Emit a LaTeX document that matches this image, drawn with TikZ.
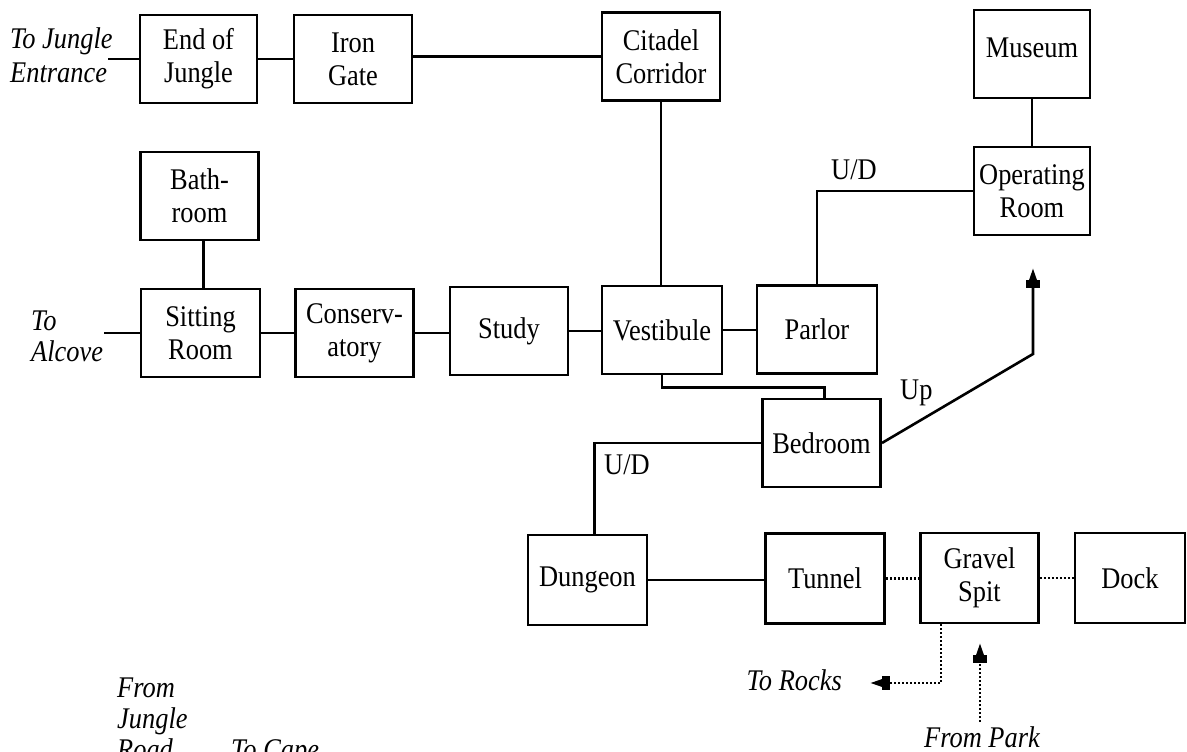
\documentclass[tikz,border=0pt]{standalone}
\usepackage{fontspec}
\setmainfont[FakeStretch=0.88]{Liberation Serif}
\usetikzlibrary{arrows.meta}
\begin{document}
\begin{tikzpicture}[x=1pt,y=-1pt,
  room/.style={draw, line width=2.9pt, minimum width=118pt, minimum height=88pt,
    align=center, inner sep=0pt, font=\fontsize{30}{33}\selectfont},
  link/.style={line width=2.6pt},
  dots/.style={line width=2.6pt, dash pattern=on 2pt off 2pt},
  lab/.style={font=\fontsize{30}{33}\selectfont\itshape, inner sep=0pt},
  ulab/.style={font=\fontsize{30}{33}\selectfont, inner sep=0pt},
  tip/.style={-{Rectangle[length=8pt,width=14pt] Triangle[length=12pt,width=7pt]}}]
\useasboundingbox (0,0) rectangle (1187,752);
\clip (0,0) rectangle (1187,752);
\fill[white] (0,0) rectangle (1187,752);

% rooms
\node[room, minimum width=117pt] (endj) at (198.5,59) {End of\\Jungle};
\node[room] (iron) at (353,59) {Iron\\Gate};
\node[room] (citadel) at (661,56.5) {Citadel\\Corridor};
\node[room, minimum width=116pt] (museum) at (1032,54) {\raisebox{12pt}{Museum}};
\node[room, minimum width=116pt] (oper) at (1032,191) {Operating\\Room};
\node[room] (bath) at (199.5,196) {Bath-\\room};
\node[room, minimum width=119pt] (sitting) at (200.5,333) {Sitting\\Room};
\node[room] (conserv) at (354.5,333) {Conserv-\\atory};
\node[room] (study) at (509,331) {Study};
\node[room, minimum width=120pt] (vest) at (662,330) {Vestibule};
\node[room, minimum width=120pt] (parlor) at (817,329.5) {Parlor};
\node[room] (bedroom) at (821.5,443) {Bedroom};
\node[room, minimum width=119pt, minimum height=90pt] (dungeon) at (587.5,580) {Dungeon};
\node[room, minimum width=119pt, minimum height=90pt] (tunnel) at (825,578.5) {Tunnel};
\node[room, minimum width=118pt, minimum height=90pt] (gravel) at (979.5,578) {Gravel\\Spit};
\node[room, minimum width=110pt, minimum height=90pt] (dock) at (1130,578) {Dock};

% free ends
\coordinate (jungleEnd) at (108,59);
\coordinate (alcoveEnd) at (104,333);
\coordinate (upBend) at (1033,354);
\coordinate (upTip) at (1033,268);
\coordinate (rocksTip) at (870,683);
\coordinate (parkStart) at (980,722);
\coordinate (parkTip) at (980,643);

% connectors
\draw[link] (jungleEnd) -- (endj.west);
\draw[link] (endj.east) -- (endj.east -| iron.west);
\draw[link] (iron.east |- citadel.west) -- (citadel.west);
\draw[link] (citadel.south) -- (citadel.south |- vest.north);
\draw[link] (museum.south) -- (oper.north);
\draw[link] (oper.west) -| (parlor.north);
\draw[link] ([xshift=4pt]bath.south) -- ([xshift=4pt]bath.south |- sitting.north);
\draw[link] (alcoveEnd) -- (sitting.west);
\draw[link] (sitting.east) -- (sitting.east -| conserv.west);
\draw[link] (conserv.east) -- (conserv.east -| study.west);
\draw[link] (study.east) -- (study.east -| vest.west);
\draw[link] (vest.east) -- (vest.east -| parlor.west);
\draw[link] (vest.south) -- ++(0,12) -| ([xshift=3pt]bedroom.north);
\draw[link, tip] (bedroom.east) -- (upBend) -- (upTip);
\draw[link] (bedroom.west) -| ([xshift=7pt]dungeon.north);
\draw[link] (dungeon.east) -- (dungeon.east -| tunnel.west);
\draw[dots] (tunnel.east) -- (tunnel.east -| gravel.west);
\draw[dots] (gravel.east) -- (gravel.east -| dock.west);
\draw[dots, tip] ([xshift=-38.5pt]gravel.south) |- (rocksTip);
\draw[dots, tip] (parkStart) -- (parkTip);

% labels
\node[lab, anchor=base west] (tj1) at (10,49) {To Jungle};
\node[lab, anchor=base west] (tj2) at (10,82) {Entrance};
\node[lab, anchor=base west] (ta1) at (31,330) {To};
\node[lab, anchor=base west] (ta2) at (31,361) {Alcove};
\node[ulab, anchor=base west] (ud1) at (831,179) {U/D};
\node[ulab, anchor=base west] (ud2) at (604,474) {U/D};
\node[ulab, anchor=base west] (uplab) at (900,399) {Up};
\node[lab, anchor=base east] (rocks) at (842,690) {To Rocks};
\node[lab, anchor=base] (park) at (982,747) {From Park};
\node[lab, anchor=base west] (fj1) at (117,697) {From};
\node[lab, anchor=base west] (fj2) at (117,728) {Jungle};
\node[lab, anchor=base west] (fj3) at (117,759) {Road};
\node[lab, anchor=base west] (cape) at (231,759) {To Cape};
\end{tikzpicture}
\end{document}
